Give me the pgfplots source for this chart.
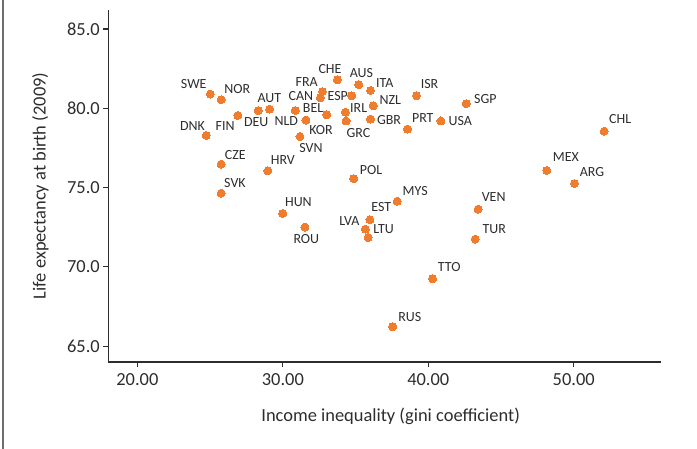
\documentclass[border=0pt]{standalone}
\usepackage{fontspec}
\setmainfont{Carlito}
\usepackage{pgfplots}
\usepackage{pgfplotstable}
\pgfplotsset{compat=1.18}
\definecolor{dots}{RGB}{240,125,45}
\definecolor{ink}{RGB}{45,45,45}
\definecolor{frame}{RGB}{110,110,110}

% gini, life expectancy, label, label offset (bp)
\pgfplotstableread{
x     y     label dx    dy
25.01 80.90 SWE  -16.5  10
25.76 80.54 NOR   16    10.3
24.73 78.29 DNK  -13.7  9
26.91 79.55 FIN  -12.8 -11
28.31 79.86 DEU  -2    -11.6
29.09 79.95 AUT  -0.3   11
30.86 79.86 NLD  -9    -11
31.59 79.26 KOR   15   -9.7
33.02 79.59 BEL  -13.7  6.6
31.18 78.22 SVN   11   -11.6
32.58 80.67 CAN  -19.5  1.9
32.72 81.06 FRA  -15.7  9.4
33.75 81.80 CHE  -7.4   10.7
34.74 80.79 ESP  -14    0
35.22 81.49 AUS   2.7   11.7
36.03 81.13 ITA   14.3  7.4
34.30 79.76 IRL   13.3  4
34.35 79.20 GRC   12.4 -12
36.21 80.16 NZL   17.2  5.3
36.03 79.32 GBR   18.5 -1.4
38.57 78.69 PRT   15.3  11
39.19 80.79 ISR   13    11.7
40.87 79.20 USA   19.3 -0.4
42.61 80.29 SGP   19.2  4.7
25.76 76.48 CZE   14.1  8.6
25.76 74.65 SVK   13.8  10.6
28.97 76.06 HRV   15    11
34.88 75.56 POL   17.3  9
29.99 73.37 HUN   15.7  11.4
31.52 72.51 ROU   1.4  -12
35.99 72.97 EST   11.4  12.3
35.68 72.38 LVA  -16    8.6
35.86 71.85 LTU   15.5  8.4
37.86 74.14 MYS   18    10
43.43 73.64 VEN   15.5  12.6
43.23 71.75 TUR   19    10
40.30 69.25 TTO   16.6  11.7
37.56 66.22 RUS   17    9.7
52.09 78.56 CHL   16    12.3
48.15 76.08 MEX   19    13.4
50.05 75.26 ARG   17.5  11.4
}\countries

\begin{document}
\begin{tikzpicture}
\useasboundingbox (-108.3bp,-87bp) rectangle (588.7bp,362bp);
\draw[frame, line width=1.5bp] (-105.3bp,-87bp) -- (-105.3bp,362bp);
\begin{axis}[
    at={(0,0)}, anchor=south west, scale only axis,
    width=552.7bp, height=352bp,
    xmin=18, xmax=56, ymin=64, ymax=86.2,
    axis x line*=bottom, axis y line*=left,
    axis line style={ink, line width=1.4bp, -},
    xtick={20,30,40,50}, ytick={65,70,75,80,85},
    minor tick num=0,
    tick align=outside, major tick length=5bp,
    tick style={ink, line width=1.2bp},
    /pgf/number format/assume math mode=true,
    xticklabel style={yshift=-3bp, /pgf/number format/.cd, fixed, fixed zerofill, precision=2},
    yticklabel style={/pgf/number format/.cd, fixed, fixed zerofill, precision=1},
    ticklabel style={font=\fontsize{18.5}{22}\selectfont, text=ink},
    xlabel={Income inequality (gini coefficient)},
    ylabel={Life expectancy at birth (2009)},
    label style={font=\fontsize{18.5}{22}\selectfont, text=ink},
    xlabel style={at={(axis description cs:0.5,0)}, anchor=center, xshift=6bp, yshift=-54bp},
    ylabel style={at={(axis description cs:0,0.5)}, anchor=center, yshift=68bp},
    clip=false,
]
\addplot[only marks, mark=*, mark size=4bp,
    mark options={fill=dots, draw=dots, line width=0pt},
    point meta=explicit symbolic,
    nodes near coords,
    visualization depends on={\thisrow{dx}\as\dx},
    visualization depends on={\thisrow{dy}\as\dy},
    nodes near coords style={anchor=center, xshift=\dx bp, yshift=\dy bp,
        font=\fontsize{14}{16}\selectfont, text=ink, inner sep=0pt},
] table[x=x, y=y, meta=label] {\countries};
\end{axis}
\end{tikzpicture}
\end{document}
